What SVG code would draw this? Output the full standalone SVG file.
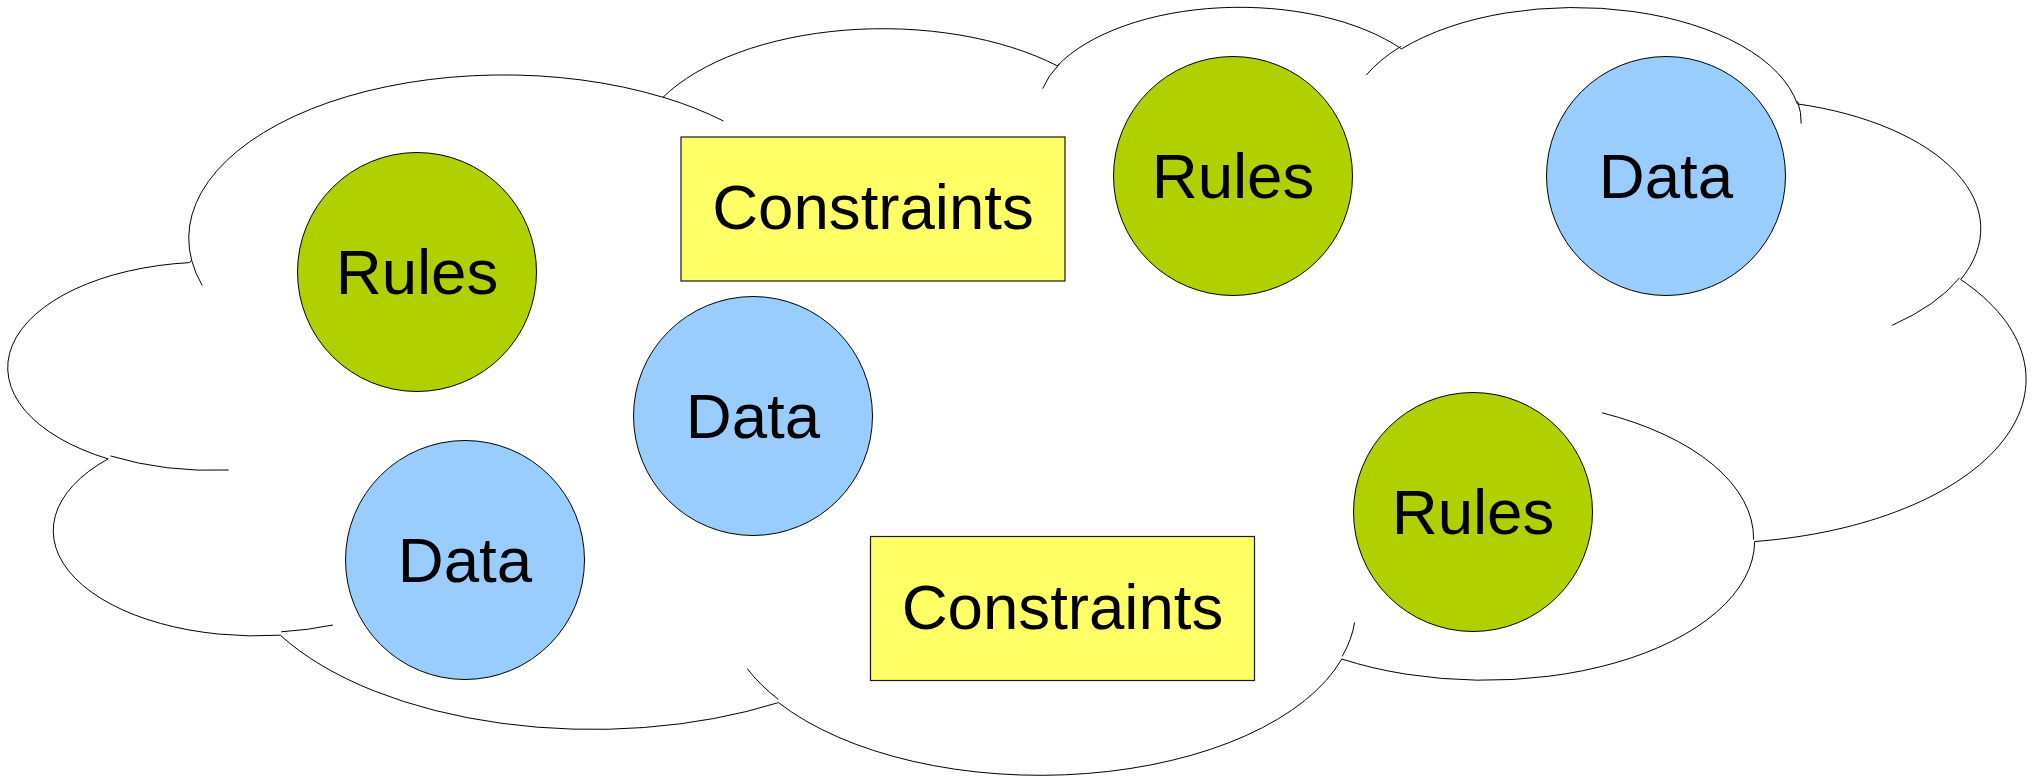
<svg xmlns="http://www.w3.org/2000/svg" width="2033" height="779" viewBox="0 0 2033 779">
  <style>
    .cloud { fill: none; stroke: #000000; stroke-width: 1; }
    .rules { fill: #b0d000; stroke: #000000; stroke-width: 1; }
    .data { fill: #99ccff; stroke: #000000; stroke-width: 1; }
    .constr { fill: #ffff66; stroke: #1a1a1a; stroke-width: 1.2; }
    .lbl { font-family: "Liberation Sans", Arial, sans-serif; font-size: 63.6px; fill: #000000; text-anchor: middle; }
  </style>
  <rect x="0" y="0" width="2033" height="779" fill="#ffffff"/>
  <g id="cloud">
    <path class="cloud" fill="#ffffff" d="M191.6,260.2 A315.06,163.32 0 0 1 663.0,97.3 A248.81,129.15 0 0 1 1057.3,65.8 A203.65,105.65 0 0 1 1401.5,48.9 A226.60,117.21 0 0 1 1797.3,103.9 A248.81,129.26 0 0 1 1960.7,279.5 A316.09,163.86 0 0 1 1754.7,541.5 A269.90,139.81 0 0 1 1341.8,659.0 A315.01,163.77 0 0 1 778.5,702.6 A360.18,187.37 0 0 1 280.3,635.2 A203.42,105.17 0 0 1 108.1,458.9 A202.72,105.65 0 0 1 189.7,262.6 Z"/>
    <path class="cloud" d="M228.6,470.0 A202.72,105.65 0 0 1 110.4,455.9 M332.9,625.0 A203.42,105.17 0 0 1 281.2,631.8 M778.4,699.5 A315.01,163.77 0 0 1 747.2,668.6 M1354.6,622.4 A315.01,163.77 0 0 1 1342.2,656.3 M1602.0,412.8 A269.90,139.81 0 0 1 1753.6,539.6 M1959.7,277.7 A248.81,129.26 0 0 1 1892.2,325.3 M1797.6,101.3 A226.60,117.21 0 0 1 1801.2,123.7 M1366.3,75.0 A226.60,117.21 0 0 1 1400.9,46.4 M1042.6,88.7 A203.65,105.65 0 0 1 1059.4,64.0 M662.8,97.1 A315.06,163.32 0 0 1 723.5,121.0 M202.2,285.4 A315.06,163.32 0 0 1 191.6,260.2"/>
  </g>
  <g id="connectors"></g>
  <g id="rules1">
    <circle class="rules" cx="417" cy="272" r="119.5"/>
    <text class="lbl" x="417" y="293.5">Rules</text>
  </g>
  <g id="constraints1">
    <rect class="constr" x="681" y="137" width="384" height="144"/>
    <text class="lbl" x="873" y="229.3">Constraints</text>
  </g>
  <g id="rules2">
    <circle class="rules" cx="1233" cy="176" r="119.5"/>
    <text class="lbl" x="1233" y="197.5">Rules</text>
  </g>
  <g id="data1">
    <circle class="data" cx="1666" cy="176" r="119.5"/>
    <text class="lbl" x="1666" y="197.5">Data</text>
  </g>
  <g id="data2">
    <circle class="data" cx="753" cy="416" r="119.5"/>
    <text class="lbl" x="753" y="437.5">Data</text>
  </g>
  <g id="data3">
    <circle class="data" cx="465" cy="560" r="119.5"/>
    <text class="lbl" x="465" y="581.5">Data</text>
  </g>
  <g id="rules3">
    <circle class="rules" cx="1473" cy="512" r="119.5"/>
    <text class="lbl" x="1473" y="533.5">Rules</text>
  </g>
  <g id="constraints2">
    <rect class="constr" x="870.5" y="536.5" width="384" height="144"/>
    <text class="lbl" x="1062.5" y="629.3">Constraints</text>
  </g>
</svg>
